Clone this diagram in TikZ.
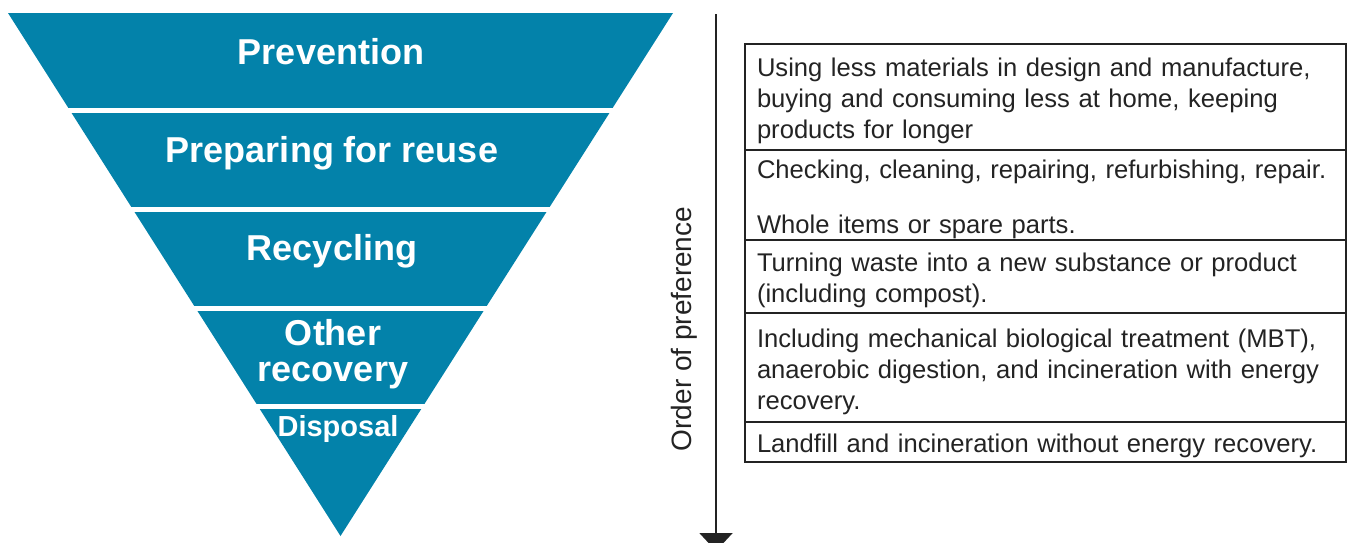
\documentclass[tikz,border=0pt]{standalone}
\usepackage{fontspec}
\setmainfont{Liberation Sans}
\usepackage{xcolor}
\usetikzlibrary{positioning,arrows.meta}
\definecolor{hierblue}{RGB}{3,130,170}
\definecolor{rulegrey}{RGB}{35,35,35}
\tikzset{
    band/.style={text=white, font=\fontsize{18}{18}\selectfont\bfseries, align=center, inner sep=0pt},
    row/.style={rectangle, draw=rulegrey, line width=1pt, text width=288.5pt, inner xsep=6pt, inner ysep=0pt, outer sep=0pt, align=left, font=\fontsize{12.8}{15.5}\selectfont, text=rulegrey, execute at begin node={\rule{0pt}{13.5pt}}}
}

\begin{document}
\begin{tikzpicture}[x=0.5pt, y=-0.5pt]
    \useasboundingbox (0,0) rectangle (1348,542);

    % Inverted triangle
    \fill [hierblue] (8,13) -- (673,13) -- (340.5,536) -- cycle;
    \foreach \yy in {110.5,209.5,308,406.5}
        \draw [white, line width=2.5pt] (0,\yy) -- (700,\yy);

    % Triangle labels
    \node [band] (prevention) at (331,52) {Prevention};
    \node [band] (reuse) at (332,153) {Preparing for reuse};
    \node [band] (recycling) at (332,251) {Recycling};
    \node [band] (recovery) at (333,354) {Other\\recovery};
    \node [band, font=\fontsize{14.5}{14.5}\selectfont\bfseries] (disposal) at (338,429) {Disposal};

    % Arrow
    \coordinate (arrtop) at (716,14);
    \coordinate (arrbot) at (716,551);
    \draw [rulegrey, line width=1pt, -{Triangle[width=16.5pt, length=9pt]}] (arrtop) -- (arrbot);
    \node [rotate=90, font=\fontsize{14}{14}\selectfont, text=rulegrey] (order) at (684,329) {Order of preference};

    % Table
    \node [row, minimum height=53pt, anchor=north west] (prevtext) at (745,44)
        {Using less materials in design and manufacture,\\buying and consuming less at home, keeping\\products for longer};
    \node [row, minimum height=45pt, below=0pt of prevtext] (reusetext)
        {Checking, cleaning, repairing, refurbishing, repair.\\[12pt]Whole items or spare parts.};
    \node [row, minimum height=36.5pt, below=0pt of reusetext] (recytext)
        {Turning waste into a new substance or product\\(including compost).};
    \node [row, minimum height=54.5pt, below=0pt of recytext] (recotext)
        {Including mechanical biological treatment (MBT),\\anaerobic digestion, and incineration with energy\\recovery.};
    \node [row, minimum height=20pt, below=0pt of recotext] (disptext)
        {Landfill and incineration without energy recovery.};
\end{tikzpicture}
\end{document}
